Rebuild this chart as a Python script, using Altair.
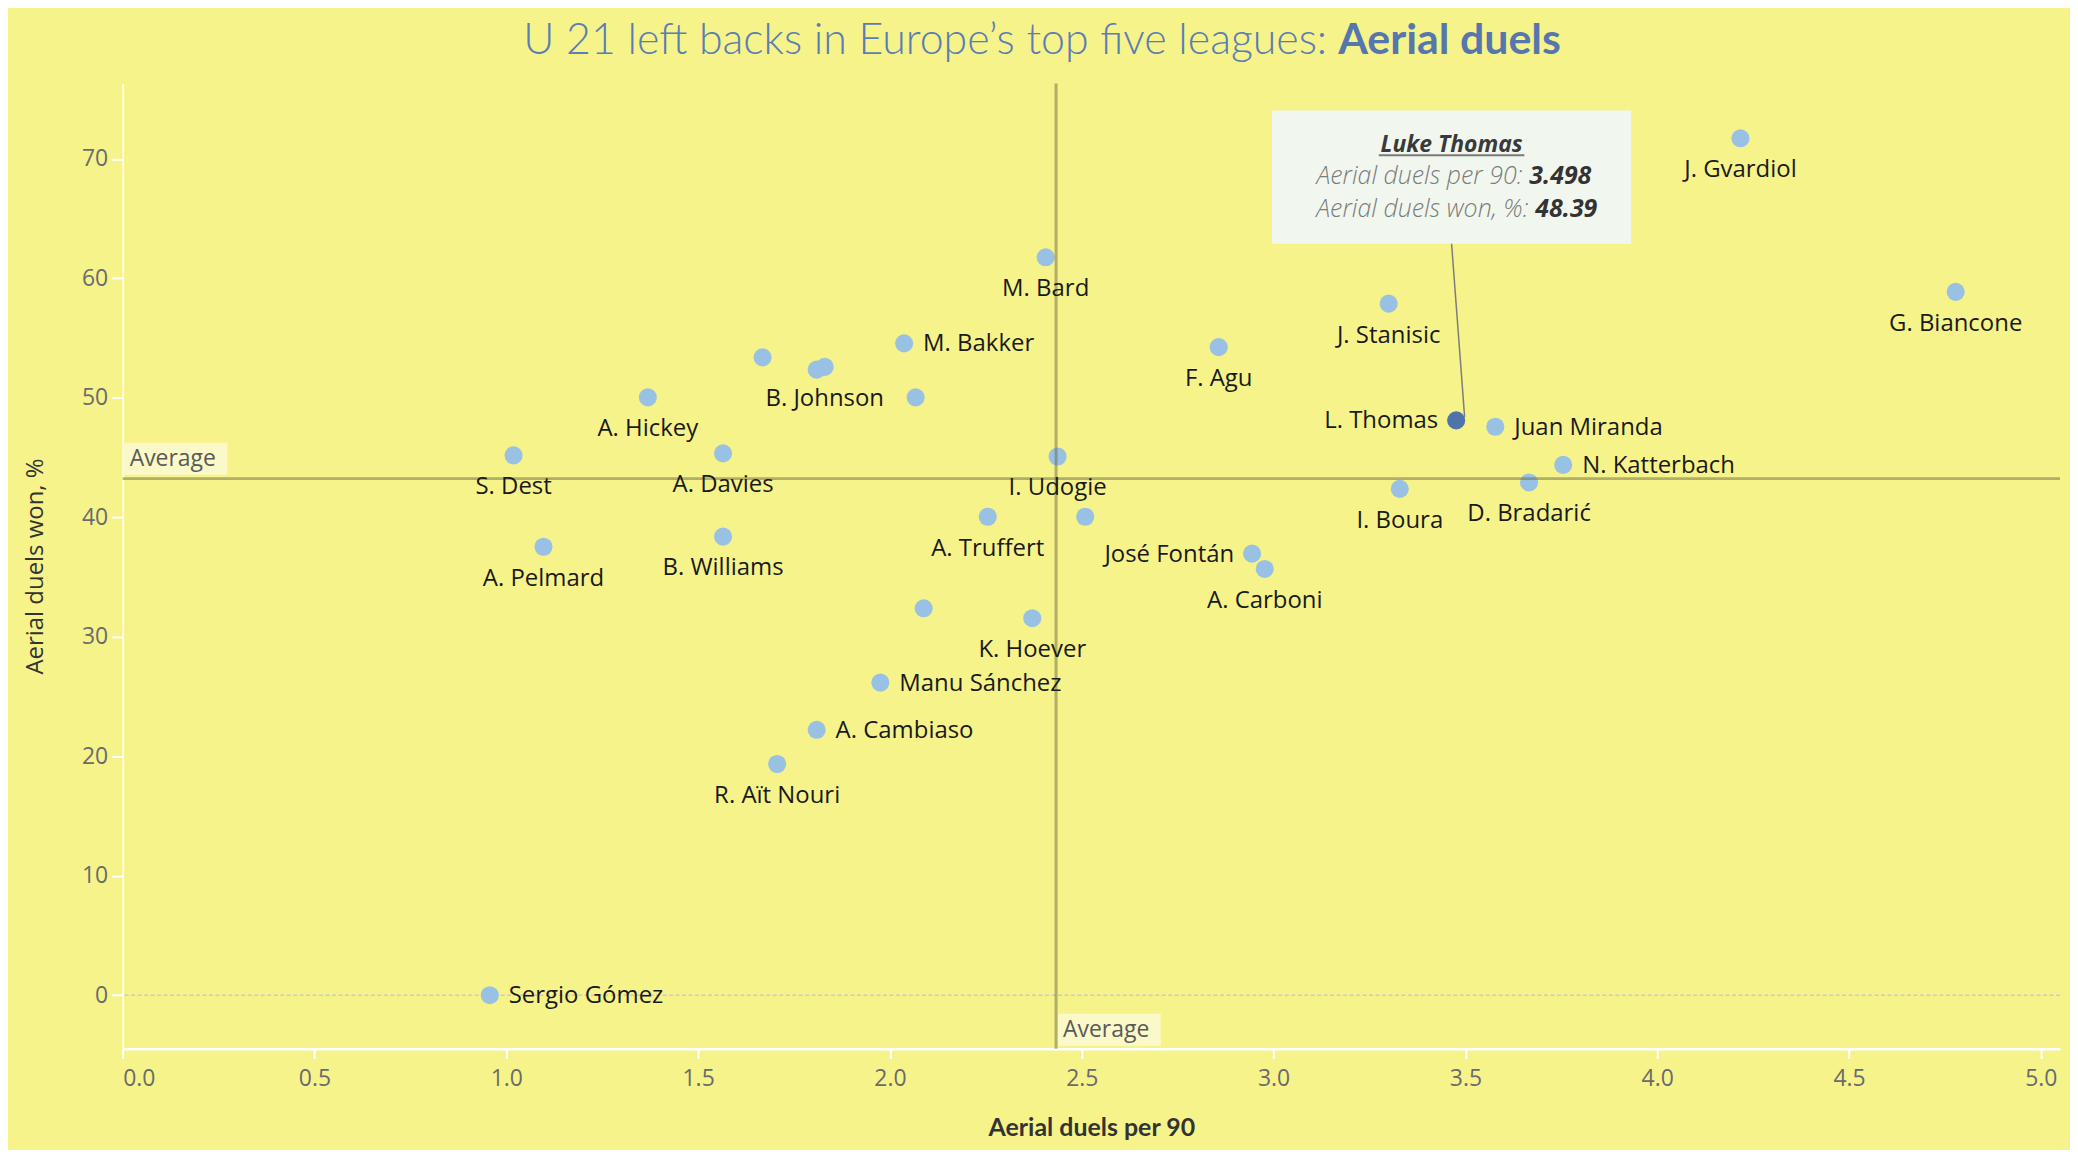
import altair as alt
import pandas as pd

# ---------------- data ----------------
players = ["A. Hickey", "", "", "B. Johnson", "M. Bakker", "", "S. Dest", "A. Davies",
           "A. Pelmard", "B. Williams", "A. Truffert", "M. Bard", "J. Gvardiol", "G. Biancone",
           "J. Stanisic", "F. Agu", "L. Thomas", "Juan Miranda", "N. Katterbach", "I. Udogie",
           "D. Bradarić", "I. Boura", "", "José Fontán", "A. Carboni", "", "K. Hoever",
           "Manu Sánchez", "A. Cambiaso", "R. Aït Nouri", "Sergio Gómez"]
per90 = [1.369, 1.668, 1.809, 1.830, 2.037, 2.067, 1.019, 1.565,
         1.097, 1.565, 2.255, 2.406, 4.217, 4.778,
         3.300, 2.857, 3.476, 3.578, 3.755, 2.437,
         3.666, 3.329, 2.509, 2.944, 2.977, 2.088, 2.371,
         1.975, 1.809, 1.706, 0.957]
won_pct = [50.03, 53.38, 52.35, 52.58, 54.55, 50.03, 45.18, 45.34,
           37.53, 38.38, 40.04, 61.75, 71.71, 58.86,
           57.87, 54.23, 48.10, 47.57, 44.38, 45.08,
           42.91, 42.37, 40.04, 36.95, 35.67, 32.38, 31.55,
           26.16, 22.21, 19.35, 0.0]
label_side = ["below", "none", "none", "below", "right", "none", "below", "below",
              "below", "below", "below", "below", "below", "below",
              "below", "below", "left", "right", "right", "below",
              "below", "below", "none", "left", "below", "none", "below",
              "right", "right", "below", "right"]
highlight = "L. Thomas"

avg_per90 = 2.433
avg_won = 43.23

x_ticks = [0.0, 0.5, 1.0, 1.5, 2.0, 2.5, 3.0, 3.5, 4.0, 4.5, 5.0]
y_ticks = [0, 10, 20, 30, 40, 50, 60, 70]
x_domain = [0, 5.05]
y_domain = [-4.47, 76.3]

title_main = "U 21 left backs in Europe\u2019s top five leagues:"
title_bold = "Aerial duels"

# annotation (callout) for the highlighted player
tip_name = "Luke Thomas"
tip_line_labels = ["Aerial duels per 90:", "Aerial duels won, %:"]
tip_line_values = ["3.498", "48.39"]
tip_box_x = [2.996, 3.932]
tip_box_y = [74.04, 62.89]
tip_center_x = 3.464
tip_target = [3.498, 48.39]

# ---------------- styling ----------------
BG = "#f6f38b"
W, H = 1943, 968
FONT = "Open Sans"

df = pd.DataFrame({"name": players, "x": per90, "y": won_pct, "side": label_side})

xs = alt.Scale(domain=x_domain, nice=False, zero=False)
ys = alt.Scale(domain=y_domain, nice=False, zero=False)

x_axis = alt.Axis(values=x_ticks, format=".1f", labelFlush=True, grid=False,
                  domainColor="white", domainWidth=2.5, tickColor="white", tickWidth=2,
                  tickSize=10, labelPadding=9, labelFont=FONT, labelFontSize=23,
                  labelColor="#6b6b6b", titleFont="Lato", titleFontSize=25,
                  titleFontWeight="bold", titleColor="#333333", titleY=87,
                  titleBaseline="alphabetic")
y_axis = alt.Axis(values=y_ticks, grid=False, domainColor="white", domainWidth=1.5,
                  tickColor="white", tickWidth=2, tickSize=11, labelPadding=4,
                  labelFont=FONT, labelFontSize=23, labelColor="#6b6b6b",
                  titleFont=FONT, titleFontSize=24, titleFontWeight="normal",
                  titleColor="#333333", titleX=-87, titleY=H / 2, titleBaseline="middle",
                  titleAngle=270)

X = alt.X("x:Q", scale=xs, axis=x_axis, title="Aerial duels per 90")
Y = alt.Y("y:Q", scale=ys, axis=y_axis, title="Aerial duels won, %")

base = alt.Chart(df)

zero_line = alt.Chart(pd.DataFrame({"y": [0]})).mark_rule(
    color="#c9c9d6", strokeWidth=1.5, strokeDash=[4, 2.5]).encode(y=Y)

points = base.mark_circle(size=330, opacity=1).encode(
    x=X, y=Y,
    color=alt.condition(alt.datum.name == highlight, alt.value("#4f74aa"), alt.value("#98c1e4")),
)

avg_v = alt.Chart(pd.DataFrame({"x": [avg_per90]})).mark_rule(
    color="#6b6a40", opacity=0.5, strokeWidth=3).encode(x=X)
avg_h = alt.Chart(pd.DataFrame({"y": [avg_won]})).mark_rule(
    color="#6b6a40", opacity=0.5, strokeWidth=3).encode(y=Y)

lab_style = dict(font=FONT, fontSize=24, color="#1a1a1a")
lab_below = base.transform_filter(alt.datum.side == "below").mark_text(
    align="center", baseline="alphabetic", dy=39, **lab_style).encode(x=X, y=Y, text="name:N")
lab_right = base.transform_filter(alt.datum.side == "right").mark_text(
    align="left", baseline="middle", dx=19, dy=1, **lab_style).encode(x=X, y=Y, text="name:N")
lab_left = base.transform_filter(alt.datum.side == "left").mark_text(
    align="right", baseline="middle", dx=-18, dy=1, **lab_style).encode(x=X, y=Y, text="name:N")

# "Average" tags
box_h = alt.Chart(pd.DataFrame({"x": [x_domain[0]], "x2": [x_domain[0]],
                                "y": [avg_won], "y2": [avg_won]})).mark_rect(
    color="#fbf9c8", xOffset=0, x2Offset=105, yOffset=-4, y2Offset=-36).encode(
    x=X, x2=alt.X2("x2:Q"), y=Y, y2=alt.Y2("y2:Q"))
txt_h = alt.Chart(pd.DataFrame({"x": [x_domain[0]], "y": [avg_won], "t": ["Average"]})).mark_text(
    align="left", baseline="middle", dx=7, dy=-20, font=FONT, fontSize=23, color="#5a5a5a").encode(
    x=X, y=Y, text="t:N")
box_v = alt.Chart(pd.DataFrame({"x": [avg_per90], "x2": [avg_per90],
                                "y": [y_domain[0]], "y2": [y_domain[0]]})).mark_rect(
    color="#fbf9c8", xOffset=2, x2Offset=105, yOffset=-3, y2Offset=-35).encode(
    x=X, x2=alt.X2("x2:Q"), y=Y, y2=alt.Y2("y2:Q"))
txt_v = alt.Chart(pd.DataFrame({"x": [avg_per90], "y": [y_domain[0]], "t": ["Average"]})).mark_text(
    align="left", baseline="middle", dx=7, dy=-19, font=FONT, fontSize=23, color="#5a5a5a").encode(
    x=X, y=Y, text="t:N")

# callout
tip_box = alt.Chart(pd.DataFrame({"x": [tip_box_x[0]], "x2": [tip_box_x[1]],
                                  "y": [tip_box_y[0]], "y2": [tip_box_y[1]]})).mark_rect(
    color="#f1f7ee").encode(x=X, x2=alt.X2("x2:Q"), y=Y, y2=alt.Y2("y2:Q"))
leader = alt.Chart(pd.DataFrame({"x": [tip_center_x], "y": [tip_box_y[1]],
                                 "x2": [tip_target[0]], "y2": [tip_target[1]]})).mark_rule(
    color="#7d7d7d", strokeWidth=1.5).encode(x=X, y=Y, x2=alt.X2("x2:Q"), y2=alt.Y2("y2:Q"))
tip_title = alt.Chart(pd.DataFrame({"x": [tip_center_x], "y": [tip_box_y[0]], "t": [tip_name]})).mark_text(
    align="center", baseline="alphabetic", dy=42, font=FONT, fontSize=23, fontWeight="bold",
    fontStyle="italic", color="#3a3a3a").encode(x=X, y=Y, text="t:N")
tip_ul = alt.Chart(pd.DataFrame({"x": [tip_center_x], "x2": [tip_center_x], "y": [tip_box_y[0]]})).mark_rule(
    color="#7a7a7a", strokeWidth=2, xOffset=-73, x2Offset=73, yOffset=45).encode(
    x=X, x2=alt.X2("x2:Q"), y=Y)
tip_df = pd.DataFrame({"x": [tip_center_x, tip_center_x], "y": [tip_box_y[0], tip_box_y[0]],
                       "lab": tip_line_labels, "val": tip_line_values})
tip_l1 = alt.Chart(tip_df.iloc[[0]]).mark_text(
    align="right", baseline="alphabetic", dx=71, dy=74, font=FONT, fontSize=25, fontWeight=300,
    fontStyle="italic", color="#7c7c7c").encode(x=X, y=Y, text="lab:N")
tip_v1 = alt.Chart(tip_df.iloc[[0]]).mark_text(
    align="left", baseline="alphabetic", dx=78, dy=74, font=FONT, fontSize=25, fontWeight="bold",
    fontStyle="italic", color="#333333").encode(x=X, y=Y, text="val:N")
tip_l2 = alt.Chart(tip_df.iloc[[1]]).mark_text(
    align="right", baseline="alphabetic", dx=77, dy=107, font=FONT, fontSize=25, fontWeight=300,
    fontStyle="italic", color="#7c7c7c").encode(x=X, y=Y, text="lab:N")
tip_v2 = alt.Chart(tip_df.iloc[[1]]).mark_text(
    align="left", baseline="alphabetic", dx=84, dy=107, font=FONT, fontSize=25, fontWeight="bold",
    fontStyle="italic", color="#333333").encode(x=X, y=Y, text="val:N")

# title (two weights)
title_a = alt.Chart(pd.DataFrame({"t": [title_main]})).mark_text(
    align="right", baseline="alphabetic", font="Lato", fontSize=43, fontWeight=300,
    color="#5a7db5").encode(x=alt.value(1208), y=alt.value(-30), text="t:N")
title_b = alt.Chart(pd.DataFrame({"t": [title_bold]})).mark_text(
    align="left", baseline="alphabetic", font="Lato", fontSize=43, fontWeight="bold",
    color="#5577ad").encode(x=alt.value(1219), y=alt.value(-30), text="t:N")

chart = alt.layer(
    zero_line, points, avg_v, avg_h, lab_below, lab_right, lab_left,
    box_h, txt_h, box_v, txt_v,
    tip_box, leader, tip_title, tip_ul, tip_l1, tip_v1, tip_l2, tip_v2,
    title_a, title_b,
).properties(
    width=W, height=H,
    autosize=alt.AutoSizeParams(type="none"),
    padding={"left": 115, "top": 74, "right": 10, "bottom": 100},
    background=BG,
).configure_view(stroke=None)

chart.save("out.html", embed_options={"renderer": "svg", "actions": False})
